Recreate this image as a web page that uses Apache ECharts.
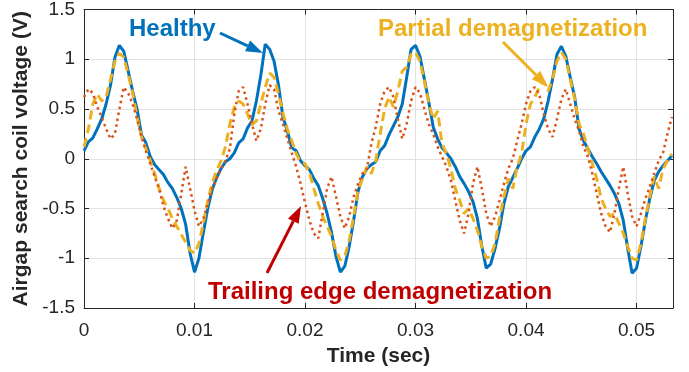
<!DOCTYPE html>
<html>
<head>
<meta charset="utf-8">
<script src="https://cdn.jsdelivr.net/npm/echarts@6/dist/echarts.min.js"></script>
<style>
  html, body { margin: 0; padding: 0; background: #fff; }
  #chart { width: 689px; height: 372px; }
</style>
</head>
<body>
<div id="chart"></div>
<script>
// sample spacing (s) of the traces below
const dt = 0.0004

// Airgap search coil voltage (V), one value every dt from t = 0
const healthy = [
  0.08, 0.17, 0.21, 0.30, 0.40, 0.55, 0.74, 1.02, 1.14, 1.08,
  0.88, 0.68, 0.50, 0.24, 0.16, 0.02, -0.06, -0.11, -0.16, -0.24,
  -0.30, -0.39, -0.50, -0.66, -0.95, -1.14, -1.00, -0.74, -0.50, -0.31,
  -0.19, -0.10, -0.03, 0.00, 0.06, 0.16, 0.20, 0.31, 0.38, 0.58,
  0.84, 1.15, 1.10, 0.98, 0.74, 0.42, 0.28, 0.11, 0.08, -0.02,
  -0.07, -0.11, -0.20, -0.27, -0.40, -0.55, -0.74, -0.98, -1.14, -1.08,
  -0.88, -0.62, -0.33, -0.18, -0.10, -0.06, -0.03, 0.08, 0.13, 0.24,
  0.33, 0.42, 0.55, 0.82, 1.10, 1.14, 1.03, 0.80, 0.57, 0.32,
  0.20, 0.11, 0.06, 0.00, -0.08, -0.18, -0.25, -0.33, -0.43, -0.60,
  -0.88, -1.10, -1.06, -0.90, -0.70, -0.45, -0.28, -0.19, -0.10, 0.00,
  0.08, 0.12, 0.22, 0.30, 0.40, 0.58, 0.80, 1.05, 1.13, 1.03,
  0.82, 0.62, 0.30, 0.18, 0.10, 0.02, -0.05, -0.13, -0.20, -0.27,
  -0.35, -0.45, -0.62, -0.90, -1.15, -1.10, -0.88, -0.62, -0.40, -0.22,
  -0.13, -0.07, -0.02, 0.03
]

const partial = [
  0.12, 0.30, 0.55, 0.65, 0.58, 0.62, 0.80, 0.98, 1.06, 1.02,
  0.85, 0.66, 0.42, 0.22, 0.10, -0.02, -0.15, -0.30, -0.42, -0.50,
  -0.60, -0.68, -0.76, -0.84, -0.92, -0.95, -0.85, -0.65, -0.42, -0.24,
  -0.12, -0.02, 0.12, 0.35, 0.52, 0.58, 0.55, 0.45, 0.34, 0.38,
  0.55, 0.72, 0.86, 0.82, 0.65, 0.46, 0.30, 0.18, 0.05, -0.03,
  -0.05, -0.14, -0.30, -0.45, -0.58, -0.68, -0.78, -0.92, -1.02, -0.98,
  -0.82, -0.58, -0.32, -0.20, -0.08, -0.15, -0.02, 0.25, 0.50, 0.62,
  0.52, 0.68, 0.88, 0.92, 1.05, 1.07, 0.98, 0.78, 0.56, 0.40,
  0.48, 0.15, 0.05, -0.10, -0.30, -0.42, -0.55, -0.50, -0.60, -0.72,
  -0.88, -1.00, -0.98, -0.85, -0.60, -0.38, -0.20, -0.30, -0.08, 0.05,
  0.35, 0.55, 0.62, 0.72, 0.78, 0.68, 0.80, 0.98, 1.07, 1.00,
  0.80, 0.60, 0.35, 0.25, 0.10, -0.05, -0.20, -0.40, -0.50, -0.58,
  -0.55, -0.65, -0.75, -0.88, -1.00, -1.02, -0.85, -0.60, -0.38, -0.18,
  -0.30, -0.10, -0.02, 0.05
]

const trailing = [
  0.62, 0.70, 0.66, 0.52, 0.42, 0.30, 0.20, 0.25, 0.50, 0.72,
  0.66, 0.55, 0.40, 0.22, 0.08, -0.05, -0.18, -0.30, -0.48, -0.60,
  -0.70, -0.62, -0.35, -0.08, -0.30, -0.52, -0.68, -0.60, -0.45, -0.30,
  -0.20, -0.10, -0.02, 0.10, 0.45, 0.68, 0.72, 0.55, 0.35, 0.18,
  0.30, 0.55, 0.74, 0.70, 0.48, 0.35, 0.20, 0.06, -0.08, -0.25,
  -0.44, -0.62, -0.75, -0.80, -0.55, -0.30, -0.18, -0.38, -0.58, -0.70,
  -0.58, -0.38, -0.25, -0.15, -0.10, 0.15, 0.32, 0.55, 0.68, 0.72,
  0.62, 0.40, 0.20, 0.35, 0.58, 0.72, 0.66, 0.50, 0.35, 0.25,
  0.12, 0.02, -0.08, -0.22, -0.42, -0.62, -0.75, -0.55, -0.25, -0.08,
  -0.30, -0.55, -0.68, -0.58, -0.42, -0.25, -0.10, 0.00, 0.18, 0.35,
  0.55, 0.68, 0.72, 0.65, 0.45, 0.30, 0.22, 0.40, 0.60, 0.70,
  0.55, 0.40, 0.28, 0.12, 0.02, -0.15, -0.35, -0.55, -0.68, -0.74,
  -0.55, -0.30, -0.08, -0.35, -0.58, -0.68, -0.55, -0.40, -0.28, -0.15,
  -0.02, 0.06, 0.25, 0.42
]

const fontFamily = '"Liberation Sans", Arial, sans-serif'
const axisColor = '#262626'

const toPairs = arr => arr.map((v, i) => [+(i * dt).toFixed(4), v])

// arrow drawn as a line plus a filled head
function arrow(x1, y1, x2, y2, color) {
  const len = Math.hypot(x2 - x1, y2 - y1)
  const ux = (x2 - x1) / len, uy = (y2 - y1) / len
  const L = 17, W = 6
  const bx = x2 - ux * L, by = y2 - uy * L
  return [
    { type: 'line', shape: { x1, y1, x2: bx, y2: by }, style: { stroke: color, lineWidth: 3 }, z: 100 },
    {
      type: 'polygon',
      shape: { points: [[x2, y2], [bx - uy * W, by + ux * W], [bx + uy * W, by - ux * W]] },
      style: { fill: color },
      z: 100
    }
  ]
}

function label(text, x, y, color) {
  return {
    type: 'text', x, y, z: 100,
    style: {
      text, fill: color,
      font: 'bold 24px ' + fontFamily,
      textVerticalAlign: 'middle', verticalAlign: 'middle'
    }
  }
}

const chart = echarts.init(document.getElementById('chart'))

const boxAxis = {
  axisLine: { show: true, onZero: false, lineStyle: { color: axisColor, width: 1 } },
  axisTick: { show: true, inside: true, length: 5, lineStyle: { color: axisColor } },
  axisLabel: { show: false },
  splitLine: { show: false }
}

const option = {
  animation: false,
  grid: { left: 84, right: 16, top: 9, bottom: 63 },
  xAxis: [
    {
      type: 'value', min: 0, max: 0.0533, interval: 0.01,
      axisLine: { show: true, onZero: false, lineStyle: { color: axisColor, width: 1 } },
      axisTick: { show: true, inside: true, length: 5, lineStyle: { color: axisColor } },
      axisLabel: {
        color: axisColor, fontSize: 19, fontFamily, margin: 13,
        formatter: v => Math.abs(v * 100 - Math.round(v * 100)) < 1e-6 ? String(+v.toFixed(2)) : ''
      },
      splitLine: { show: true, lineStyle: { color: '#e1e1e1', width: 1 } },
      name: 'Time (sec)', nameLocation: 'middle', nameGap: 38,
      nameTextStyle: { color: axisColor, fontSize: 21, fontWeight: 'bold', fontFamily }
    },
    Object.assign({ type: 'value', position: 'top', min: 0, max: 0.0533, interval: 0.01 }, boxAxis)
  ],
  yAxis: [
    {
      type: 'value', min: -1.5, max: 1.5, interval: 0.5,
      axisLine: { show: true, onZero: false, lineStyle: { color: axisColor, width: 1 } },
      axisTick: { show: true, inside: true, length: 5, lineStyle: { color: axisColor } },
      axisLabel: { color: axisColor, fontSize: 19, fontFamily, margin: 9 },
      splitLine: { show: true, lineStyle: { color: '#e1e1e1', width: 1 } },
      name: 'Airgap search coil voltage (V)', nameLocation: 'middle', nameGap: 51,
      nameTextStyle: { color: axisColor, fontSize: 21, fontWeight: 'bold', fontFamily }
    },
    Object.assign({ type: 'value', position: 'right', min: -1.5, max: 1.5, interval: 0.5 }, boxAxis)
  ],
  series: [
    {
      name: 'Healthy', type: 'line', data: toPairs(healthy),
      showSymbol: false, symbol: 'none',
      lineStyle: { color: '#0072BD', width: 3 }, z: 2
    },
    {
      name: 'Partial demagnetization', type: 'line', data: toPairs(partial),
      showSymbol: false, symbol: 'none',
      lineStyle: { color: '#EDB120', width: 3, type: [9, 5] }, z: 3
    },
    {
      name: 'Trailing edge demagnetization', type: 'line', data: toPairs(trailing),
      showSymbol: false, symbol: 'none',
      lineStyle: { color: '#D95319', width: 2.5, type: [2.5, 3.5] }, z: 4
    }
  ],
  graphic: [
    label('Healthy', 129, 29, '#0072BD'),
    ...arrow(220, 33, 263, 53, '#0072BD'),
    label('Partial demagnetization', 378, 29, '#EDB120'),
    ...arrow(503, 42, 548, 87, '#EDB120'),
    label('Trailing edge demagnetization', 208, 292, '#C00000'),
    ...arrow(267, 273, 301, 206, '#C00000')
  ]
}

chart.setOption(option)
window.addEventListener('resize', () => chart.resize())
</script>
</body>
</html>
